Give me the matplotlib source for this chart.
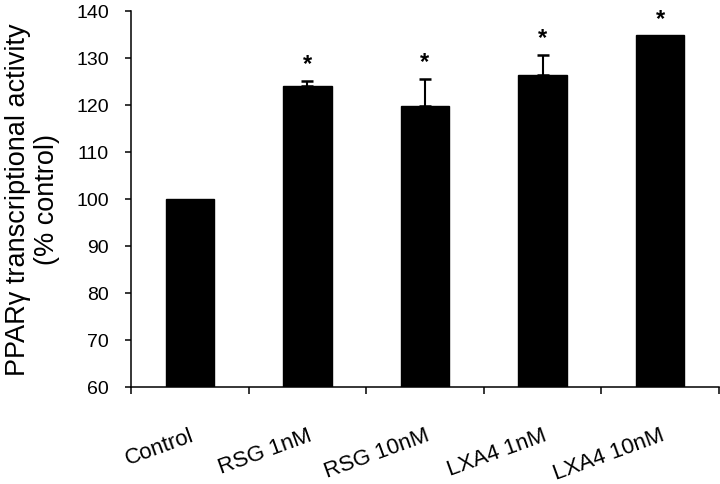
import matplotlib
matplotlib.use("Agg")
import matplotlib.pyplot as plt
import numpy as np

categories = ["Control", "RSG 1nM", "RSG 10nM", "LXA4 1nM", "LXA4 10nM"]
values = [100.0, 123.9, 119.7, 126.3, 134.7]
err_upper = [0.0, 1.2, 5.8, 4.3, 0.0]
significant = [False, True, True, True, True]
y_ticks = [60, 70, 80, 90, 100, 110, 120, 130, 140]

plt.rcParams['font.family'] = ['Liberation Sans', 'DejaVu Sans']

fig = plt.figure(figsize=(7.2, 4.85), dpi=100)
ax = fig.add_axes([131/720, 1 - 388/485, (719 - 131)/720, (388 - 11.5)/485])

x = np.arange(len(categories))
vals = np.array(values)
errs = np.array(err_upper)
ax.bar(x, vals, width=0.41, color='black', edgecolor='black', zorder=2)
has_err = errs > 0
ax.errorbar(x[has_err], vals[has_err],
            yerr=[np.zeros(has_err.sum()), errs[has_err]], fmt='none',
            ecolor='black', elinewidth=1.5, capsize=4.5, capthick=1.8, zorder=3)

for xi, v, e, s in zip(x, vals, errs, significant):
    if s:
        ax.annotate('*', xy=(xi, v + e), xytext=(0, 4), textcoords='offset points',
                    ha='center', va='bottom', fontsize=17, fontweight='bold')

ax.set_ylim(60, 140)
ax.set_xlim(-0.5, len(categories) - 0.5)
ax.set_yticks(y_ticks)
ax.set_yticklabels([str(t) for t in y_ticks], fontsize=14)

# category boundary ticks
ax.set_xticks(np.arange(len(categories) + 1) - 0.5)
ax.set_xticklabels([])
ax.set_xticks(x, minor=True)
ax.set_xticklabels(categories, minor=True, rotation=20, ha='right',
                   rotation_mode='anchor', fontsize=16)
ax.tick_params(axis='x', which='minor', length=0, pad=27)
ax.tick_params(axis='x', which='major', direction='out', length=5, width=1.1)
ax.tick_params(axis='y', direction='out', length=4, width=1.1, pad=12)

for sp in ['top', 'right']:
    ax.spines[sp].set_visible(False)
for sp in ['left', 'bottom']:
    ax.spines[sp].set_linewidth(1.1)

ax.set_ylabel("PPARγ transcriptional activity\n(% control)", fontsize=19.5,
              linespacing=1.15)
ax.yaxis.set_label_coords(-0.121, 0.5)

fig.savefig("out.png", dpi=100)
